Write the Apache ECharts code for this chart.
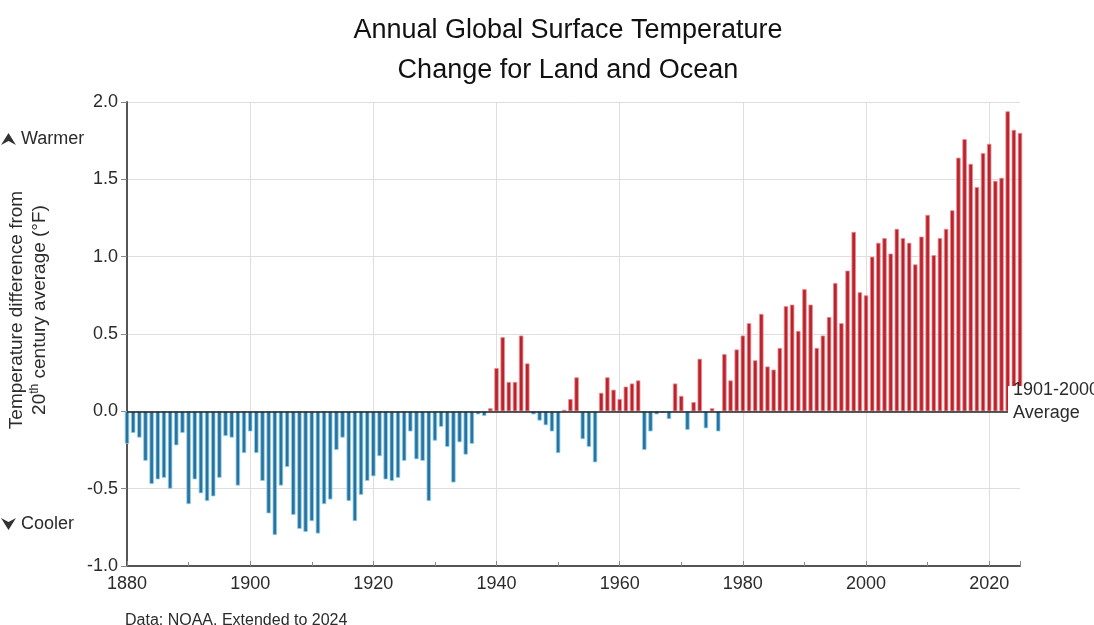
<!DOCTYPE html>
<html>
<head>
<meta charset="utf-8">
<title>Annual Global Surface Temperature</title>
<script src="https://cdn.jsdelivr.net/npm/echarts@6/dist/echarts.min.js"></script>
<style>
  html, body { margin: 0; padding: 0; background: #fff; }
  #chart-container { width: 1094px; height: 625px; }
</style>
</head>
<body>
<div id="chart-container"></div>
<script>
// anomalies in °F vs 1901-2000 average, one value per year from firstYear
var firstYear = 1880;
var anomalies = [
  -0.21, -0.14, -0.17, -0.32, -0.47, -0.44, -0.43, -0.50, -0.22, -0.14,  // 1880s
  -0.60, -0.44, -0.53, -0.58, -0.55, -0.43, -0.16, -0.17, -0.48, -0.27,  // 1890s
  -0.13, -0.27, -0.45, -0.66, -0.80, -0.48, -0.36, -0.67, -0.76, -0.78,  // 1900s
  -0.71, -0.79, -0.60, -0.57, -0.25, -0.17, -0.58, -0.71, -0.54, -0.45,  // 1910s
  -0.42, -0.29, -0.44, -0.45, -0.43, -0.32, -0.13, -0.31, -0.32, -0.58,  // 1920s
  -0.19, -0.10, -0.23, -0.46, -0.20, -0.28, -0.21, -0.02, -0.03,  0.02,  // 1930s
   0.28,  0.48,  0.19,  0.19,  0.49,  0.31, -0.02, -0.06, -0.09, -0.13,  // 1940s
  -0.27,  0.01,  0.08,  0.22, -0.18, -0.23, -0.33,  0.12,  0.22,  0.14,  // 1950s
   0.08,  0.16,  0.18,  0.20, -0.25, -0.13, -0.02, -0.01, -0.05,  0.18,  // 1960s
   0.10, -0.12,  0.06,  0.34, -0.11,  0.02, -0.13,  0.37,  0.20,  0.40,  // 1970s
   0.49,  0.57,  0.33,  0.63,  0.29,  0.27,  0.41,  0.68,  0.69,  0.52,  // 1980s
   0.79,  0.69,  0.41,  0.49,  0.61,  0.83,  0.57,  0.91,  1.16,  0.77,  // 1990s
   0.75,  1.00,  1.09,  1.12,  1.02,  1.18,  1.12,  1.09,  0.95,  1.13,  // 2000s
   1.27,  1.01,  1.12,  1.18,  1.30,  1.64,  1.76,  1.60,  1.45,  1.67,  // 2010s
   1.73,  1.49,  1.51,  1.94,  1.82,  1.80                                 // 2020s
];
var yTicks = [-1.0, -0.5, 0.0, 0.5, 1.0, 1.5, 2.0];
var xTickYears = [1880, 1900, 1920, 1940, 1960, 1980, 2000, 2020];

var warmColor = '#b8242d';
var warmEdge = '#ef8a8f';
var coolColor = '#2a729e';
var coolEdge = '#8fd0ee';
var textColor = '#2b2b2b';
var fontName = 'Liberation Sans, Arial, sans-serif';

var barData = anomalies.map(function (v, i) {
  var warm = v >= 0;
  return {
    value: [firstYear + i, v],
    itemStyle: {
      color: warm ? warmColor : coolColor,
      borderColor: warm ? warmEdge : coolEdge,
      borderWidth: 0.8
    }
  };
});

var dom = document.getElementById('chart-container');
var myChart = echarts.init(dom, null, {
  renderer: 'canvas',
  useDirtyRect: false
});

var option = {
  animation: false,
  backgroundColor: '#ffffff',
  grid: {
    left: 127,
    right: 74,
    top: 102,
    bottom: 59
  },
  xAxis: {
    type: 'value',
    min: xTickYears[0],
    max: 2025,
    interval: 20,
    axisLine: {
      show: true,
      onZero: false,
      lineStyle: { color: '#555', width: 2 }
    },
    axisTick: {
      show: true,
      inside: true,
      length: 5,
      lineStyle: { color: '#888' }
    },
    minorTick: {
      show: true,
      splitNumber: 2,
      length: 4,
      lineStyle: { color: '#888' }
    },
    axisLabel: {
      color: textColor,
      fontSize: 18,
      fontFamily: fontName,
      margin: 9,
      formatter: function (v) {
        return xTickYears.indexOf(v) >= 0 ? String(v) : '';
      }
    },
    splitLine: {
      show: true,
      showMinLine: false,
      showMaxLine: false,
      lineStyle: { color: '#dedede', width: 1 }
    }
  },
  yAxis: {
    type: 'value',
    min: yTicks[0],
    max: yTicks[yTicks.length - 1],
    interval: 0.5,
    axisLine: {
      show: true,
      lineStyle: { color: '#555', width: 2 }
    },
    axisTick: {
      show: true,
      length: 6,
      lineStyle: { color: '#888' }
    },
    axisLabel: {
      color: textColor,
      fontSize: 18,
      fontFamily: fontName,
      margin: 9,
      formatter: function (v) {
        return v.toFixed(1);
      }
    },
    splitLine: {
      show: true,
      showMinLine: false,
      lineStyle: { color: '#dedede', width: 1 }
    }
  },
  series: [
    {
      type: 'bar',
      data: barData,
      barWidth: 4.4,
      clip: false,
      markLine: {
        silent: true,
        symbol: 'none',
        label: { show: false },
        lineStyle: { color: '#222', width: 1.5, type: 'solid' },
        data: [{ yAxis: 0 }]
      }
    }
  ],
  graphic: [
    // title
    {
      type: 'text',
      style: {
        x: 568, y: 31,
        text: 'Annual Global Surface Temperature',
        textAlign: 'center', textVerticalAlign: 'middle',
        fontSize: 27, fontFamily: fontName,
        fill: '#111'
      }
    },
    {
      type: 'text',
      style: {
        x: 568, y: 71,
        text: 'Change for Land and Ocean',
        textAlign: 'center', textVerticalAlign: 'middle',
        fontSize: 27, fontFamily: fontName,
        fill: '#111'
      }
    },
    // y axis title, two rotated lines
    {
      type: 'text',
      x: 17, y: 310, rotation: Math.PI / 2,
      style: {
        x: 0, y: 0,
        text: 'Temperature difference from',
        textAlign: 'center', textVerticalAlign: 'middle',
        fontSize: 19, fontFamily: fontName, fill: textColor
      }
    },
    {
      type: 'text',
      x: 40, y: 310, rotation: Math.PI / 2,
      style: {
        x: 0, y: 0,
        text: '{n|20}{s|th}{n| century average (°F)}',
        textAlign: 'center', textVerticalAlign: 'middle',
        fill: textColor,
        rich: {
          n: { fontSize: 19, fontFamily: fontName, fill: textColor, lineHeight: 22 },
          s: { fontSize: 12, fontFamily: fontName, fill: textColor, verticalAlign: 'top', lineHeight: 22 }
        }
      }
    },
    // warmer / cooler hints
    {
      type: 'polygon',
      shape: { points: [[1, 145], [8.5, 133], [16, 145], [8.5, 141]] },
      style: { fill: '#333' }
    },
    {
      type: 'text',
      style: {
        x: 21, y: 139, text: 'Warmer',
        textAlign: 'left', textVerticalAlign: 'middle',
        fontSize: 18, fontFamily: fontName, fill: textColor
      }
    },
    {
      type: 'polygon',
      shape: { points: [[1, 518], [8.5, 530], [16, 518], [8.5, 522]] },
      style: { fill: '#333' }
    },
    {
      type: 'text',
      style: {
        x: 21, y: 524, text: 'Cooler',
        textAlign: 'left', textVerticalAlign: 'middle',
        fontSize: 18, fontFamily: fontName, fill: textColor
      }
    },
    // baseline note on the right, white box sits over the last bars
    {
      type: 'rect',
      z: 100,
      shape: { x: 1008, y: 386, width: 86, height: 54 },
      style: { fill: '#ffffff' }
    },
    {
      type: 'text',
      z: 101,
      style: {
        x: 1013, y: 402,
        text: '1901-2000\nAverage',
        textAlign: 'left', textVerticalAlign: 'middle',
        fontSize: 18, lineHeight: 23, fontFamily: fontName, fill: textColor
      }
    },
    // source note, cut by the bottom edge like the original
    {
      type: 'text',
      style: {
        x: 125, y: 613,
        text: 'Data: NOAA. Extended to 2024',
        textAlign: 'left', textVerticalAlign: 'top',
        fontSize: 16, fontFamily: fontName, fill: textColor
      }
    }
  ]
};

if (option && typeof option === 'object') {
  myChart.setOption(option);
}

window.addEventListener('resize', () => {
  myChart.resize();
});
</script>
</body>
</html>
